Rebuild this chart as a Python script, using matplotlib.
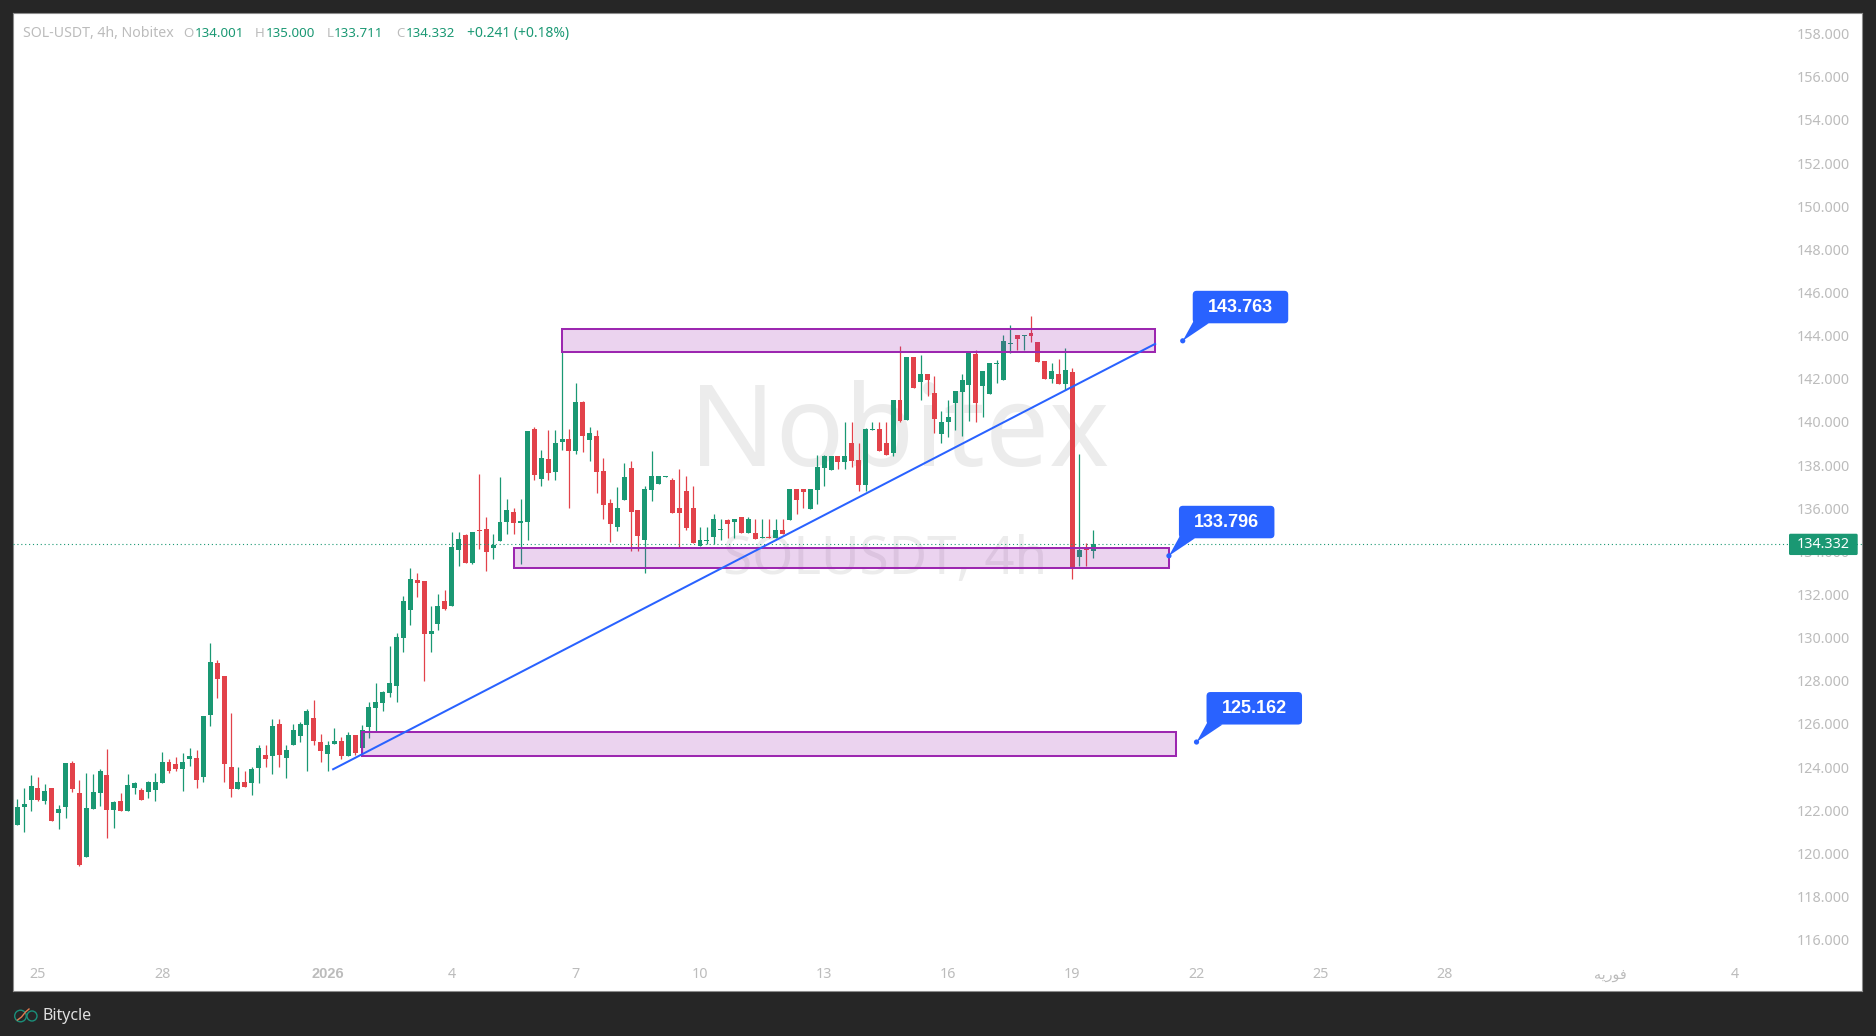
"""SOL-USDT 4h candlestick chart with support/resistance zones and callouts"""

import matplotlib
matplotlib.use("Agg")
import matplotlib.pyplot as plt
from matplotlib.patches import Circle, FancyBboxPatch, Polygon, Rectangle

plt.rcParams["font.family"] = ["Noto Sans", "DejaVu Sans"]

# candle values, one candle per 4h bar
opens = [
    121.31, 122.15, 122.47, 123.03, 122.43, 123.03, 121.87, 122.15, 124.19, 122.80,
    119.83, 122.06, 122.80, 123.63, 122.01, 122.43, 121.96, 123.03, 122.94, 122.84,
    122.94, 123.26, 124.24, 124.14, 123.91, 124.38, 124.42, 123.54, 126.42, 128.83,
    128.23, 124.00, 122.98, 123.31, 123.26, 123.96, 124.56, 124.51, 125.99, 124.42,
    125.02, 125.44, 125.95, 126.28, 125.16, 124.61, 125.07, 125.21, 124.52, 125.49,
    124.89, 125.86, 126.74, 126.97, 127.44, 127.76, 129.99, 131.29, 132.68, 132.63,
    130.17, 130.64, 131.70, 131.47, 134.07, 134.76, 133.46, 134.99, 135.04, 134.16,
    134.48, 135.36, 135.83, 135.32, 135.36, 139.67, 137.36, 138.28, 137.68, 139.07,
    139.21, 138.65, 140.93, 139.16, 139.35, 137.73, 136.24, 135.13, 136.38, 137.87,
    135.92, 134.53, 136.85, 137.12, 137.45, 137.31, 136.01, 136.80, 136.01, 134.25,
    134.48, 134.67, 134.99, 135.46, 135.36, 135.59, 134.85, 134.85, 134.62, 134.67,
    134.62, 134.99, 135.46, 136.89, 136.89, 135.97, 136.85, 137.87, 137.77, 138.42,
    138.14, 139.03, 138.24, 137.08, 139.63, 139.67, 139.03, 138.56, 141.02, 140.09,
    143.01, 141.85, 142.22, 141.34, 139.44, 140.00, 140.88, 141.39, 141.71, 143.15,
    141.67, 141.30, 142.69, 141.94, 143.61, 144.03, 143.98, 144.12, 143.71, 142.83,
    141.99, 142.22, 141.76, 142.32, 133.74, 134.16, 134.001,
]
highs = [
    122.52, 123.03, 123.63, 123.54, 123.22, 123.03, 122.24, 124.19, 124.28, 123.40,
    123.73, 123.68, 123.91, 124.84, 122.43, 122.80, 123.68, 123.31, 123.03, 123.35,
    123.73, 124.70, 124.38, 124.47, 124.65, 124.88, 124.79, 126.37, 129.76, 128.97,
    128.23, 126.51, 124.00, 123.82, 124.00, 125.02, 125.02, 126.23, 126.23, 125.02,
    125.99, 126.09, 126.69, 127.11, 125.53, 125.21, 125.81, 125.40, 125.63, 125.49,
    125.95, 127.02, 127.90, 127.53, 129.62, 130.22, 131.93, 133.23, 133.00, 132.63,
    131.47, 132.03, 132.21, 134.90, 134.90, 134.81, 134.90, 137.59, 135.60, 134.81,
    137.45, 136.43, 136.01, 136.43, 139.58, 139.77, 138.70, 139.63, 139.63, 143.30,
    139.67, 141.81, 140.97, 139.77, 139.63, 138.33, 136.43, 136.98, 138.10, 138.19,
    135.92, 137.03, 138.65, 137.49, 137.49, 137.40, 137.82, 137.49, 137.03, 135.13,
    135.13, 135.73, 135.50, 135.50, 135.50, 135.59, 135.59, 135.50, 135.50, 135.50,
    135.50, 135.50, 136.89, 136.89, 136.89, 136.89, 138.47, 138.47, 138.42, 138.42,
    140.00, 140.00, 139.03, 139.72, 140.00, 140.00, 140.00, 141.02, 143.52, 143.01,
    143.01, 143.10, 142.22, 142.13, 140.51, 141.02, 141.43, 142.22, 143.24, 143.34,
    142.36, 142.73, 142.87, 144.03, 144.49, 144.03, 144.03, 144.91, 143.71, 142.83,
    142.73, 142.92, 143.43, 142.50, 138.51, 134.39, 135.000,
]
lows = [
    121.31, 120.99, 121.96, 122.43, 122.29, 121.50, 121.13, 121.64, 122.84, 119.41,
    119.83, 122.06, 122.20, 120.71, 121.18, 121.96, 121.96, 122.75, 122.47, 122.57,
    122.43, 123.26, 123.73, 123.82, 122.89, 124.05, 123.03, 123.31, 125.90, 127.21,
    123.31, 122.61, 122.98, 123.08, 122.71, 123.26, 124.00, 123.68, 124.00, 123.49,
    125.02, 125.16, 123.82, 125.02, 124.24, 123.82, 125.07, 124.38, 124.52, 124.56,
    124.56, 125.35, 125.68, 126.60, 127.25, 127.02, 129.34, 130.59, 131.89, 127.99,
    129.34, 130.36, 131.29, 131.47, 133.33, 133.46, 133.42, 134.11, 133.09, 133.65,
    134.48, 134.81, 134.81, 133.42, 134.53, 137.31, 137.03, 137.31, 137.31, 138.70,
    136.01, 138.51, 138.61, 138.19, 136.71, 135.50, 134.44, 134.95, 136.38, 134.02,
    134.02, 133.00, 136.34, 137.12, 137.45, 135.78, 134.20, 134.99, 134.39, 134.25,
    134.34, 134.34, 134.53, 134.62, 134.62, 134.85, 134.85, 134.57, 134.62, 134.62,
    134.62, 134.81, 135.46, 135.73, 136.01, 135.97, 136.20, 137.03, 137.77, 137.82,
    137.82, 137.91, 136.80, 136.80, 139.63, 138.65, 138.47, 138.42, 140.00, 140.09,
    141.57, 141.02, 141.20, 139.49, 139.02, 139.30, 139.63, 139.35, 140.04, 140.00,
    140.23, 141.30, 141.81, 141.94, 143.20, 143.34, 143.34, 143.71, 142.78, 141.99,
    141.81, 141.76, 141.48, 132.72, 133.32, 133.32, 133.711,
]
closes = [
    122.15, 122.29, 123.12, 122.47, 122.89, 121.50, 122.06, 124.19, 122.98, 119.46,
    122.10, 122.84, 123.82, 122.01, 122.38, 121.96, 123.17, 123.26, 122.47, 123.31,
    123.31, 124.24, 123.82, 123.91, 124.24, 124.51, 123.40, 126.37, 128.88, 128.09,
    124.14, 122.98, 123.31, 123.08, 123.91, 124.88, 124.38, 125.90, 124.56, 124.79,
    125.72, 125.99, 126.60, 125.21, 124.75, 125.02, 125.21, 124.52, 125.49, 124.66,
    125.72, 126.79, 127.02, 127.48, 127.90, 130.03, 131.70, 132.72, 132.54, 130.17,
    130.31, 131.47, 131.33, 134.21, 134.58, 133.46, 134.90, 134.95, 133.97, 134.30,
    135.36, 135.92, 135.32, 135.41, 139.58, 137.54, 138.33, 137.63, 139.02, 139.21,
    138.65, 140.93, 139.35, 139.49, 137.68, 136.15, 135.27, 136.01, 137.45, 135.83,
    134.71, 136.89, 137.49, 137.49, 137.49, 135.78, 135.78, 135.08, 134.39, 134.53,
    134.53, 135.50, 135.04, 135.27, 135.50, 134.85, 135.50, 134.57, 134.67, 134.62,
    134.99, 134.81, 136.89, 136.38, 136.75, 136.89, 137.91, 138.42, 138.42, 138.14,
    138.42, 138.19, 137.08, 139.67, 139.67, 138.65, 138.47, 141.02, 140.04, 143.01,
    141.57, 142.22, 141.94, 140.14, 140.00, 140.23, 141.43, 141.94, 143.24, 140.88,
    142.36, 142.73, 142.73, 143.75, 143.66, 143.85, 144.03, 143.98, 142.78, 141.99,
    142.36, 141.76, 142.41, 133.23, 134.06, 134.06, 134.332,
]

# x axis: bar number of each date label
date_positions = [3, 21, 45, 63, 81, 99, 117, 135, 153, 171, 189, 207, 231, 249]
# Persian month name in visual order and shaped forms, matplotlib does no shaping
feb_label = "\ufeea\ufbfe\ufead\ufeee\ufed3"
date_labels = ["25", "28", "2026", "4", "7", "10", "13", "16", "19", "22", "25", "28", feb_label, "4"]
price_ticks = list(range(116, 160, 2))

# zones: (first bar, last bar, low price, high price)
zones = [(79, 165, 143.24, 144.31), (72, 167, 133.23, 134.16), (50, 168, 124.52, 125.63)]
trend_bars = [45.8, 165]
trend_prices = [123.9, 143.62]
callout_bars = [169, 167, 171]
callout_prices = [143.763, 133.796, 125.162]
last_price = 134.332

GREEN = "#1a9873"
RED = "#e2424a"
PURPLE = "#9c27b0"
BLUE = "#2962ff"
GRAY = "#bcbcbc"
DARK = "#262626"
BOLD_FONT = "Liberation Sans"

W, H = 1876, 1036
fig = plt.figure(figsize=(W / 100, H / 100), dpi=100, facecolor=DARK)
# pixel box of the white chart area
left, right, top, bottom = 13, 1862, 13, 991
ax = fig.add_axes([left / W, 1 - bottom / H, (right - left) / W, (bottom - top) / H])
ax.set_xlim(-0.62, 267.5)
ax.set_ylim(113.62, 158.96)
for s in ax.spines.values():
    s.set_color("#8c8c8c")
    s.set_linewidth(0.8)

# watermarks
ax.text(0.4795, 0.567, "Nobitex", transform=ax.transAxes, ha="center", va="center",
        fontsize=82, color="#ececec", zorder=0)
ax.text(0.4716, 0.440, "SOLUSDT, 4h", transform=ax.transAxes, ha="center", va="center",
        fontsize=38, color="#ececec", zorder=0)

# candles
bars = list(range(len(opens)))
colors = [GREEN if c >= o else RED for o, c in zip(opens, closes)]
ax.vlines(bars, lows, highs, colors=colors, linewidth=0.9, zorder=2)
ax.bar(bars, [max(abs(c - o), 0.04) for o, c in zip(opens, closes)],
       bottom=[min(o, c) for o, c in zip(opens, closes)],
       width=0.72, color=colors, linewidth=0, zorder=3)

# last price line
ax.axhline(last_price, color=GREEN, linewidth=0.8, linestyle=(0, (1, 2.5)), zorder=4)

# zones and trend line
for x0, x1, y0, y1 in zones:
    ax.add_patch(Rectangle((x0, y0), x1 - x0, y1 - y0, facecolor=PURPLE, alpha=0.2,
                           linewidth=0, zorder=5))
    ax.add_patch(Rectangle((x0, y0), x1 - x0, y1 - y0, fill=False, edgecolor=PURPLE,
                           linewidth=1.45, zorder=5))
ax.plot(trend_bars, trend_prices, color=BLUE, linewidth=1.45, zorder=6)

# axis labels sit inside the chart area
ax.yaxis.tick_right()
ax.set_yticks(price_ticks)
ax.set_yticklabels([f"{p}.000" for p in price_ticks], ha="right", va="center_baseline")
ax.tick_params(axis="y", length=0, pad=-8.5, labelsize=10.3, labelcolor=GRAY)
ax.set_xticks(date_positions)
ax.set_xticklabels(date_labels)
ax.tick_params(axis="x", length=0, pad=-17, labelsize=10.3, labelcolor=GRAY)
year_label = ax.get_xticklabels()[2]
year_label.set_fontfamily(BOLD_FONT)
year_label.set_fontweight("bold")
year_label.set_fontsize(10.5)

# overlay in figure pixels for header, callouts, price tag, footer
over = fig.add_axes([0, 0, 1, 1], facecolor="none")
over.set_xlim(0, W)
over.set_ylim(H, 0)
over.axis("off")


def to_pixels(bar, price):
    px, py = ax.transData.transform((bar, price))
    return px, H - py


def header(x, text, color, size=9.6):
    over.text(x, 33.5, text, color=color, fontsize=size, va="center", ha="left")


header(23, "SOL-USDT, 4h, Nobitex", GRAY, 10.2)
header(183, "O", GRAY)
header(195, "134.001", GREEN)
header(255, "H", GRAY)
header(266, "135.000", GREEN)
header(327, "L", GRAY)
header(334, "133.711", GREEN)
header(396, "C", GRAY)
header(405.5, "134.332", GREEN)
header(467, "+0.241 (+0.18%)", GREEN, 10)

# callouts, box is offset from its anchor point
for bar, price in zip(callout_bars, callout_prices):
    px, py = to_pixels(bar, price)
    bx, by = px + 10, py - 50
    over.add_patch(Polygon([(bx + 1, by + 30), (bx + 16, by + 32.5), (px, py)], color=BLUE, linewidth=0))
    over.add_patch(FancyBboxPatch((bx, by), 95.5, 32.5, boxstyle="round,pad=0,rounding_size=4",
                                  facecolor=BLUE, edgecolor="none"))
    over.add_patch(Circle((px, py), 2.6, color=BLUE, linewidth=0))
    over.text(bx + 47.7, by + 16.5, f"{price:.3f}", color="white", fontsize=13,
              fontfamily=BOLD_FONT, fontweight="bold", ha="center", va="center")

# last price tag
px, py = to_pixels(0, last_price)
over.add_patch(FancyBboxPatch((1789, py - 10.5), 68.7, 21.3, boxstyle="round,pad=0,rounding_size=1.5",
                              facecolor=GREEN, edgecolor="none"))
over.text(1823.3, py, f"{last_price:.3f}", color="white", fontsize=10.3, ha="center", va="center")

# footer logo
over.add_patch(Circle((20.5, 1016), 5.8, fill=False, edgecolor="#1a8f7a", linewidth=1))
over.add_patch(Circle((32, 1016), 5, fill=False, edgecolor="#1a8f7a", linewidth=1))
over.plot([17.5, 21.5, 25.5, 29], [1020, 1017, 1012, 1009], color="#e07b50", linewidth=1)
over.text(42, 1016, "Bitycle", color="#e0e0e0", fontsize=11.5, va="center", ha="left")

fig.savefig("out.png", dpi=100, facecolor=DARK)
plt.close(fig)
